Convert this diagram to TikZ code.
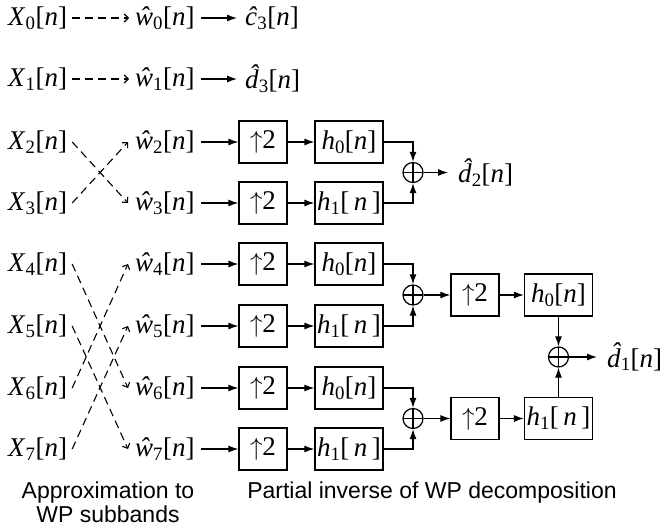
\documentclass[tikz,border=0pt]{standalone}
\usepackage{fontspec}
\setmainfont{Liberation Serif}
\setsansfont{Liberation Sans}
\usetikzlibrary{arrows.meta}
\newcommand\sigX[1]{\textit{X}\textsubscript{#1}[\textit{n}]}
\newcommand\sigW[1]{\textit{\^{w}}\textsubscript{#1}[\textit{n}]}
\newcommand\hatd{\textit{\accent"02C6 d}}
\newcommand\hz{\textit{h}\textsubscript{0}[\textit{n}]}
\newcommand\ho{\textit{h}\textsubscript{1}[\,\textit{n}\,]}
\begin{document}
\begin{tikzpicture}[x=1pt,y=-1pt,
  lbl/.style={anchor=west,inner sep=0pt,font=\fontsize{27}{30}\selectfont},
  blk/.style={draw,line width=1.2pt,minimum height=42pt,inner sep=0pt,font=\fontsize{27}{30}\selectfont},
  upbox/.style={blk,minimum width=48pt},
  hbox/.style={blk,minimum width=68pt},
  sumnode/.style={circle,draw,line width=1.2pt,minimum size=20pt,inner sep=0pt,
    path picture={\draw[line width=1.2pt] (path picture bounding box.north)--(path picture bounding box.south)
      (path picture bounding box.west)--(path picture bounding box.east);}},
  sig/.style={line width=1.2pt,-{Latex[length=10pt,width=7pt]}},
  dsh/.style={line width=1.1pt,dash pattern=on 8pt off 5pt,-{Straight Barb[length=4pt,width=8pt]}},
  captxt/.style={inner sep=0pt,align=center,font=\fontsize{23}{24}\sffamily\selectfont}
]
\useasboundingbox (0,0) rectangle (664,530);

% input labels
\foreach \i/\r in {0/18,1/79,2/142,3/203,4/264,5/326,6/388,7/449}{
  \node[lbl] (X\i) at (8,\r) {\sigX{\i}};
  \node[lbl] (W\i) at (135,\r) {\sigW{\i}};
}

% top two rows
\draw[dsh] ([xshift=5pt]X0.east) -- ([xshift=-6pt]W0.west);
\draw[dsh] ([xshift=5pt]X1.east) -- ([xshift=-6pt]W1.west);
\node[lbl] (C3) at (245,18) {\textit{\^{c}}\textsubscript{3}[\textit{n}]};
\node[lbl] (D3) at (245,79) {\hatd\textsubscript{3}[\textit{n}]};
\draw[sig] ([xshift=6pt]W0.east) -- ([xshift=-8pt]C3.west);
\draw[sig] ([xshift=6pt]W1.east) -- ([xshift=-8pt]D3.west);

% crossings
\draw[dsh] ([xshift=5pt]X2.east) -- ([xshift=-7pt]W3.west);
\draw[dsh] ([xshift=5pt]X3.east) -- ([xshift=-7pt]W2.west);
\draw[dsh] ([xshift=5pt]X4.east) -- ([xshift=-7pt]W6.west);
\draw[dsh] ([xshift=5pt]X5.east) -- ([xshift=-7pt]W7.west);
\draw[dsh] ([xshift=5pt]X6.east) -- ([xshift=-7pt]W4.west);
\draw[dsh] ([xshift=5pt]X7.east) -- ([xshift=-7pt]W5.west);

% first stage blocks
\foreach \i/\r/\f in {2/142/\hz,3/203/\ho,4/264/\hz,5/326/\ho,6/388/\hz,7/449/\ho}{
  \node[upbox] (U\i) at (263,\r) {$\uparrow$2};
  \node[hbox] (H\i) at (349,\r) {\f};
  \draw[sig] ([xshift=6pt]W\i.east) -- (U\i.west);
  \draw[sig] (U\i) -- (H\i);
}

% sums
\node[sumnode] (S1) at (413,172.5) {};
\node[sumnode] (S2) at (413,295) {};
\node[sumnode] (S3) at (413,418.5) {};
\draw[sig] (H2.east) -| (S1.north);
\draw[sig] (H3.east) -| (S1.south);
\draw[sig] (H4.east) -| (S2.north);
\draw[sig] (H5.east) -| (S2.south);
\draw[sig] (H6.east) -| (S3.north);
\draw[sig] (H7.east) -| (S3.south);

\node[lbl] (D2) at (458,172.5) {\hatd\textsubscript{2}[\textit{n}]};
\draw[sig] (S1.east) -- ([xshift=-10pt]D2.west);

% second stage
\node[upbox] (U8) at (475,295) {$\uparrow$2};
\node[hbox] (H8) at (558.5,295) {\hz};
\node[upbox] (U9) at (475,418.5) {$\uparrow$2};
\node[hbox] (H9) at (558.5,418.5) {\ho};
\draw[sig] (S2.east) -- (U8.west);
\draw[sig] (U8) -- (H8);
\draw[sig] (S3.east) -- (U9.west);
\draw[sig] (U9) -- (H9);

\node[sumnode] (SF) at (558.5,357) {};
\draw[sig] (H8.south) -- (SF.north);
\draw[sig] (H9.north) -- (SF.south);
\node[lbl] (D1) at (607,357) {\hatd\textsubscript{1}[\textit{n}]};
\draw[sig] (SF.east) -- ([xshift=-10pt]D1.west);

% captions
\node[captxt] (cap1) at (108,502) {Approximation to\\WP subbands};
\node[captxt] (cap2) at (432,493) {Partial inverse of WP decomposition};
\end{tikzpicture}
\end{document}
